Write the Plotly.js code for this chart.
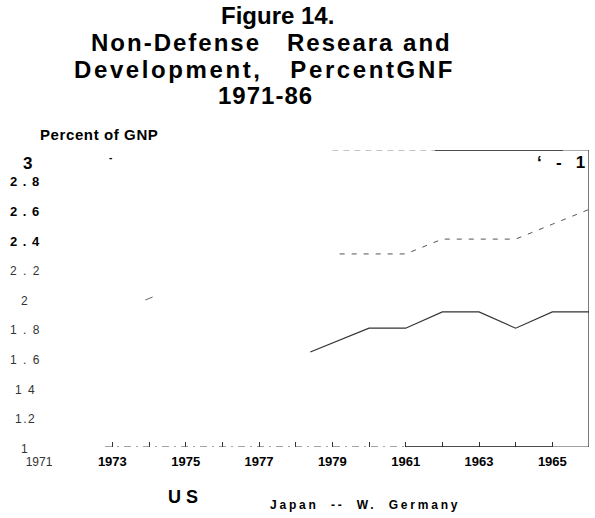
<!DOCTYPE html>
<html>
<head>
<meta charset="utf-8">
<script src="https://cdn.plot.ly/plotly-3.0.1.min.js"></script>
<style>html,body{margin:0;padding:0;background:#fff}</style>
</head>
<body>
<div id="chart" style="width:595px;height:518px"></div>
<script>
// ---- data ----
const usYears    = [1978.4, 1979, 1980, 1981, 1982, 1983, 1984, 1985, 1986];
const usValues   = [1.64, 1.70, 1.80, 1.80, 1.91, 1.91, 1.80, 1.91, 1.91];
const japanYears = [1979.2, 1980, 1981, 1982, 1983, 1984, 1985, 1986];
const japanValues= [2.30, 2.30, 2.30, 2.40, 2.40, 2.40, 2.50, 2.60];
const germanyYears  = [1973.9, 1974.1];
const germanyValues = [1.99, 2.01];

const xLabelYears = [1971, 1973, 1975, 1977, 1979, 1981, 1983, 1985];
const xLabels     = ["1971", "1973", "1975", "1977", "1979", "1961", "1963", "1965"];
const xTickMarkYears = [1973, 1974, 1975, 1976, 1977, 1978, 1979, 1980, 1981, 1982, 1983, 1984, 1985];
const yTickValues = [3, 2.8, 2.6, 2.4, 2.2, 2, 1.8, 1.6, 1.4, 1.2, 1];
const yTickLabels = ["3", "2 . 8", "2 . 6", "2 . 4", "2 . 2", "2", "1 . 8", "1 . 6", "1 4", "1.2", "1"];

const titleLines = ["Figure 14.", "Non-Defense   Researa and", "Development,   PercentGNF", "1971-86"];
const yAxisTitle = "Percent of GNP";
const legendUS = "U S";
const legendRest = "Japan  --  W.  Germany";

// ---- layout helpers ----
const W = 595, H = 518, L = 39, R = 6, T = 150, B = 71;
const pw = W - L - R, ph = H - T - B;
const px = x => (x - L) / pw;
const py = y => (H - B - y) / ph;
const FONT = "Liberation Sans, Arial, sans-serif";

const annotations = [];
// title lines
const titleStyle = [
  {cx: 277, cy: 15, size: 24, ls: 0},
  {cx: 271, cy: 42, size: 24, ls: 2},
  {cx: 264, cy: 70, size: 24, ls: 2.6},
  {cx: 265, cy: 96, size: 24, ls: 1}
];
titleLines.forEach((t, i) => {
  const s = titleStyle[i];
  annotations.push({
    text: s.ls ? `<span style="letter-spacing:${s.ls}px">${t}</span>` : t,
    xref: "paper", yref: "paper", x: px(s.cx), y: py(s.cy),
    xanchor: "center", yanchor: "middle", showarrow: false,
    font: {family: FONT, size: s.size, color: "#000", weight: "bold"}
  });
});
// y axis title
annotations.push({
  text: `<span style="letter-spacing:0.6px">${yAxisTitle}</span>`,
  xref: "paper", yref: "paper", x: px(38), y: py(135),
  xanchor: "left", yanchor: "middle", showarrow: false,
  font: {family: FONT, size: 15, color: "#000", weight: "bold"}
});
// y tick labels
const boldTicks = new Set(["3", "2 . 8", "2 . 6", "2 . 4"]);
yTickValues.forEach((v, i) => {
  const lab = yTickLabels[i];
  const bold = boldTicks.has(lab);
  const big = lab === "3";
  annotations.push({
    text: `<span style="letter-spacing:${bold ? 1 : 1.5}px">${lab}</span>`,
    xref: "paper", yref: "y", x: px(big ? 28 : 25), y: v,
    yshift: big ? -13 : -2,
    xanchor: "center", yanchor: "middle", showarrow: false, borderpad: 0,
    font: {family: FONT, size: big ? 17 : (bold ? 13 : 12),
           color: bold ? "#000" : "#333", weight: bold ? "bold" : "normal"}
  });
});
// stray marks in the scan
annotations.push({text: "‘   -   1", xref: "paper", yref: "paper", x: px(587), y: py(162),
  xanchor: "right", yanchor: "middle", showarrow: false,
  font: {family: FONT, size: 17, color: "#000", weight: "bold"}});
annotations.push({text: "-", xref: "paper", yref: "paper", x: px(110), y: py(157),
  xanchor: "center", yanchor: "middle", showarrow: false,
  font: {family: FONT, size: 10, color: "#000", weight: "bold"}});
// legend text
annotations.push({text: legendUS, xref: "paper", yref: "paper", x: px(183), y: py(497),
  xanchor: "center", yanchor: "middle", showarrow: false,
  font: {family: FONT, size: 18, color: "#000", weight: "bold"}});
annotations.push({text: `<span style="letter-spacing:2.8px">${legendRest}</span>`,
  xref: "paper", yref: "paper", x: px(365), y: py(505),
  xanchor: "center", yanchor: "middle", showarrow: false,
  font: {family: FONT, size: 12, color: "#000", weight: "bold"}});

const traces = [
  {x: usYears, y: usValues, name: "US", type: "scatter", mode: "lines",
   line: {color: "#333", width: 1.2}},
  {x: japanYears, y: japanValues, name: "Japan", type: "scatter", mode: "lines",
   line: {color: "#555", width: 1, dash: "5px,7px"}},
  {x: germanyYears, y: germanyValues, name: "W. Germany", type: "scatter", mode: "lines",
   line: {color: "#666", width: 1}}
];

const shapes = [
  // bottom axis: broken then solid
  {type: "line", xref: "x", yref: "y", x0: 1972.8, x1: 1981, y0: 1, y1: 1,
   line: {color: "#444", width: 1, dash: "7px,5px,2px,5px"}},
  {type: "line", xref: "x", yref: "y", x0: 1981, x1: 1985, y0: 1, y1: 1,
   line: {color: "#111", width: 1.6}},
  {type: "line", xref: "x", yref: "y", x0: 1985, x1: 1986, y0: 1, y1: 1,
   line: {color: "#444", width: 1}},
  // top frame
  {type: "line", xref: "x", yref: "y", x0: 1979, x1: 1981.8, y0: 3, y1: 3,
   line: {color: "#888", width: 1, dash: "6px,5px"}},
  {type: "line", xref: "x", yref: "y", x0: 1981.8, x1: 1985.3, y0: 3, y1: 3,
   line: {color: "#111", width: 1.5}},
  {type: "line", xref: "x", yref: "y", x0: 1985.3, x1: 1986, y0: 3, y1: 3,
   line: {color: "#555", width: 1}},
  // right frame
  {type: "line", xref: "x", yref: "y", x0: 1986, x1: 1986, y0: 1, y1: 3,
   line: {color: "#222", width: 1.2}}
];

// first label in regular weight, the rest bold (as in the scan)
const xTickText = xLabels.map((t, i) => i === 0
  ? `<span style="font-weight:normal;font-size:12px;color:#333">${t}</span>` : t);

const layout = {
  width: W, height: H,
  margin: {l: L, r: R, t: T, b: B, pad: 0},
  paper_bgcolor: "#fff", plot_bgcolor: "#fff",
  showlegend: false,
  font: {family: FONT, color: "#000"},
  xaxis: {
    range: [1971, 1986], showgrid: false, zeroline: false, showline: false,
    tickmode: "array", tickvals: xLabelYears, ticktext: xTickText,
    ticks: "", ticklabelstandoff: 5,
    tickfont: {family: FONT, size: 13, color: "#000", weight: "bold"},
    minor: {tickmode: "array", tickvals: xTickMarkYears, ticks: "inside",
            ticklen: 5, tickwidth: 1, tickcolor: "#333", showgrid: false},
    fixedrange: true
  },
  yaxis: {
    range: [1, 3], showgrid: false, zeroline: false, showline: false,
    showticklabels: false, ticks: "", fixedrange: true
  },
  annotations: annotations,
  shapes: shapes
};

Plotly.newPlot("chart", traces, layout, {staticPlot: true, displayModeBar: false});
</script>
</body>
</html>
